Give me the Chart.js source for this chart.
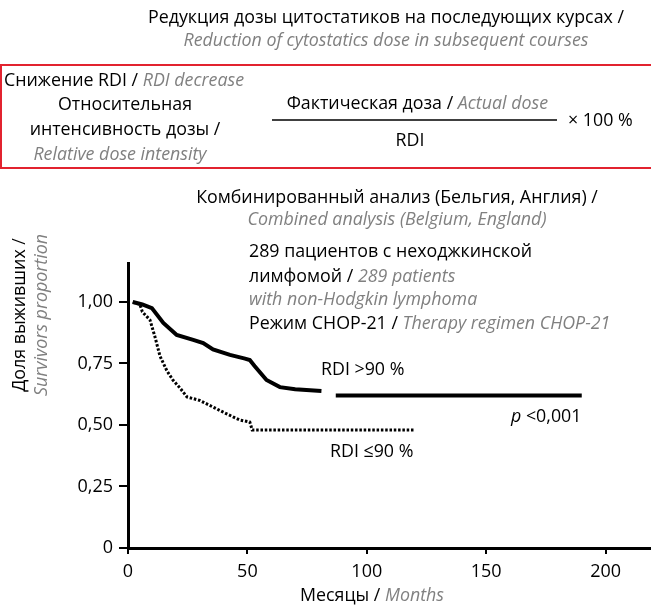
<!DOCTYPE html>
<html>
<head>
<meta charset="utf-8">
<script src="https://cdn.jsdelivr.net/npm/chart.js@4.4.1/dist/chart.umd.min.js"></script>
<style>
  html, body { margin: 0; padding: 0; background: #fff; }
</style>
</head>
<body>
<canvas id="survivalChart" width="651" height="609"></canvas>
<script>
// RDI >90 % (solid curve)
const highMonths = [2, 6, 10, 14.8, 20.4, 27.3, 31.5, 35.6, 42.7, 49, 51, 53, 58, 63.6, 70, 81, 84, 87, 190];
const highSurvival = [1.0, 0.99, 0.975, 0.915, 0.866, 0.846, 0.833, 0.807, 0.785, 0.77, 0.764, 0.74, 0.683, 0.654, 0.645, 0.638, null, 0.62, 0.62];

// RDI <=90 % (dotted curve)
const lowMonths = [2, 5, 6, 9.2, 11.3, 13.4, 16.3, 18.8, 21.8, 24.7, 30, 35.6, 39.7, 44, 47, 51, 52, 120];
const lowSurvival = [1.0, 0.99, 0.96, 0.927, 0.858, 0.78, 0.72, 0.683, 0.65, 0.614, 0.6, 0.573, 0.553, 0.533, 0.52, 0.512, 0.48, 0.48];

const xTicks = [0, 50, 100, 150, 200];
const yTicks = [0, 0.25, 0.5, 0.75, 1];
const yTickLabels = ['0', '0,25', '0,50', '0,75', '1,00'];

const FONT = "'Open Sans', 'Noto Sans', sans-serif";
const SIZE = 18.5;
const GRAY = '#808080';

function toPoints(xs, ys) {
  return xs.map((x, i) => ({ x: x, y: ys[i] }));
}

// draws one line made of parts [text, isGrayItalic], squeezed like the narrow font of the original
let squeeze = 1;
function drawParts(ctx, parts, x, y, align) {
  ctx.save();
  ctx.textBaseline = 'middle';
  ctx.textAlign = 'left';
  let total = 0;
  parts.forEach(p => {
    ctx.font = (p[1] ? 'italic ' : '') + SIZE + 'px ' + FONT;
    total += ctx.measureText(p[0]).width;
  });
  ctx.translate(x, y);
  ctx.scale(squeeze, 1);
  let pos = align === 'center' ? -total / 2 : (align === 'right' ? -total : 0);
  parts.forEach(p => {
    ctx.font = (p[1] ? 'italic ' : '') + SIZE + 'px ' + FONT;
    ctx.fillStyle = p[1] ? GRAY : '#000';
    ctx.fillText(p[0], pos, 0);
    pos += ctx.measureText(p[0]).width;
  });
  ctx.restore();
}

const textPlugin = {
  id: 'textPlugin',
  afterDraw(chart) {
    const ctx = chart.ctx;
    ctx.save();
    ctx.font = SIZE + 'px ' + FONT;
    squeeze = 476 / ctx.measureText('Редукция дозы цитостатиков на последующих курсах /').width;

    drawParts(ctx, [['Редукция дозы цитостатиков на последующих курсах /', false]], 386, 18, 'center');
    drawParts(ctx, [['Reduction of cytostatics dose in subsequent courses', true]], 386, 41, 'center');

    // red box
    ctx.strokeStyle = '#e2232f';
    ctx.lineWidth = 2;
    ctx.strokeRect(1, 65, 670, 103);

    drawParts(ctx, [['Снижение RDI / ', false], ['RDI decrease', true]], 4, 81, 'left');
    drawParts(ctx, [['Относительная', false]], 125, 105, 'center');
    drawParts(ctx, [['интенсивность дозы /', false]], 125, 130, 'center');
    drawParts(ctx, [['Relative dose intensity', true]], 120, 155, 'center');
    drawParts(ctx, [['Фактическая доза / ', false], ['Actual dose', true]], 548, 104, 'right');
    ctx.strokeStyle = '#000';
    ctx.lineWidth = 1.3;
    ctx.beginPath();
    ctx.moveTo(272, 120);
    ctx.lineTo(557, 120);
    ctx.stroke();
    drawParts(ctx, [['RDI', false]], 410, 141, 'center');
    drawParts(ctx, [['× 100 %', false]], 568, 121, 'left');

    drawParts(ctx, [['Комбинированный анализ (Бельгия, Англия) /', false]], 397, 198, 'center');
    drawParts(ctx, [['Combined analysis (Belgium, England)', true]], 397, 220, 'center');

    drawParts(ctx, [['289 пациентов с неходжкинской', false]], 249, 252, 'left');
    drawParts(ctx, [['лимфомой / ', false], ['289 patients', true]], 249, 277, 'left');
    drawParts(ctx, [['with non-Hodgkin lymphoma', true]], 249, 300, 'left');
    drawParts(ctx, [['Режим CHOP-21 / ', false], ['Therapy regimen CHOP-21', true]], 249, 324, 'left');

    drawParts(ctx, [['RDI >90 %', false]], 321, 370, 'left');
    drawParts(ctx, [['RDI ≤90 %', false]], 330, 452, 'left');
    // p value
    ctx.save();
    ctx.textBaseline = 'middle';
    ctx.fillStyle = '#000';
    ctx.translate(511, 417);
    ctx.scale(squeeze, 1);
    ctx.font = 'italic ' + SIZE + 'px ' + FONT;
    ctx.fillText('p', 0, 0);
    const pw = ctx.measureText('p ').width;
    ctx.font = SIZE + 'px ' + FONT;
    ctx.fillText('<0,001', pw, 0);
    ctx.restore();

    // axis titles
    drawParts(ctx, [['Месяцы / ', false], ['Months', true]], 372, 596, 'center');
    ctx.save();
    ctx.translate(20, 315);
    ctx.rotate(-Math.PI / 2);
    drawParts(ctx, [['Доля выживших /', false]], 0, 0, 'center');
    drawParts(ctx, [['Survivors proportion', true]], 0, 22, 'center');
    ctx.restore();

    ctx.restore();
  }
};

const ctx = document.getElementById('survivalChart');
new Chart(ctx, {
  type: 'line',
  data: {
    datasets: [
      {
        label: 'RDI >90 %',
        data: toPoints(highMonths, highSurvival),
        borderColor: '#000',
        borderWidth: 4,
        pointRadius: 0,
        spanGaps: false,
        tension: 0
      },
      {
        label: 'RDI ≤90 %',
        data: toPoints(lowMonths, lowSurvival),
        borderColor: '#000',
        borderWidth: 3,
        borderDash: [2.5, 1.8],
        pointRadius: 0,
        tension: 0
      }
    ]
  },
  options: {
    responsive: false,
    animation: false,
    layout: { padding: { top: 263, right: 0, bottom: 0, left: 0 } },
    plugins: {
      legend: { display: false },
      tooltip: { enabled: false }
    },
    scales: {
      x: {
        type: 'linear',
        min: 0,
        max: 219,
        afterBuildTicks: s => { s.ticks = xTicks.map(v => ({ value: v })); },
        afterFit: s => { s.height = 61; },
        ticks: {
          color: '#000',
          font: { family: FONT, size: 18 },
          padding: 7,
          maxRotation: 0
        },
        grid: { drawOnChartArea: false, color: '#000', lineWidth: 2, tickLength: 6 },
        border: { color: '#000', width: 3 }
      },
      y: {
        type: 'linear',
        min: 0,
        max: 1.1585,
        afterBuildTicks: s => { s.ticks = yTicks.map(v => ({ value: v })); },
        afterFit: s => { s.width = 128; },
        ticks: {
          color: '#000',
          font: { family: FONT, size: 18 },
          padding: 6,
          callback: v => yTickLabels[yTicks.indexOf(v)]
        },
        grid: { drawOnChartArea: false, color: '#000', lineWidth: 2, tickLength: 9 },
        border: { color: '#000', width: 3 }
      }
    }
  },
  plugins: [textPlugin]
});
</script>
</body>
</html>
